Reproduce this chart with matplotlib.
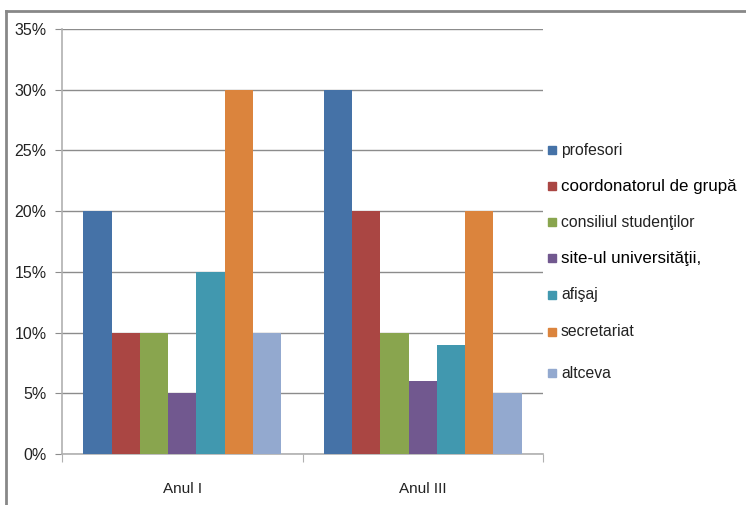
import numpy as np
import matplotlib
matplotlib.use("Agg")
import matplotlib.pyplot as plt
from matplotlib.lines import Line2D

# survey data: share of answers per source, by study year
groups = ["Anul I", "Anul III"]
series = ["profesori", "coordonatorul de grupă", "consiliul studenţilor",
          "site-ul universităţii,", "afişaj", "secretariat", "altceva"]
anul_1 = [20, 10, 10, 5, 15, 30, 10]
anul_3 = [30, 20, 10, 6, 9, 20, 5]
colors = ["#4572a7", "#aa4643", "#89a54e", "#71588f",
          "#4198af", "#db843d", "#93a9cf"]
yticks = [0, 5, 10, 15, 20, 25, 30, 35]

plt.rcParams['font.family'] = ['Liberation Sans', 'DejaVu Sans']

fig = plt.figure(figsize=(7.46, 5.05), dpi=100)
W, H = 746, 505
ax = fig.add_axes([62 / W, 1 - 454 / H, (543 - 62) / W, (454 - 29) / H])

values = np.array([anul_1, anul_3])
n = len(series)
bw = 1.0 / (n + 1.5)
x = np.arange(len(groups))
for i in range(n):
    ax.bar(x - 0.5 + 0.75 * bw + i * bw, values[:, i], bw, align='edge',
           color=colors[i], zorder=3, label=series[i])

ax.set_xlim(-0.5, 1.5)
ax.set_ylim(0, 35)
ax.set_yticks(yticks)
ax.set_yticklabels(['{}%'.format(v) for v in yticks], fontsize=11.5, color='#222222')
ax.yaxis.grid(True, color='#8c8c8c', lw=1.0, zorder=1)
ax.tick_params(axis='y', length=5, color='#8c8c8c', pad=6)

ax.set_xticks([-0.5, 0.5, 1.5])
ax.set_xticklabels([])
ax.set_xticks(x, minor=True)
ax.set_xticklabels(groups, minor=True, fontsize=11, color='#222222')
ax.tick_params(axis='x', which='major', length=6, color='#b0b0b0')
ax.tick_params(axis='x', which='minor', length=0, pad=20)

for s in ['top', 'right']:
    ax.spines[s].set_visible(False)
ax.spines['left'].set_color('#b0b0b0')
ax.spines['bottom'].set_color('#b0b0b0')
ax.spines['left'].set_linewidth(1.2)
ax.spines['bottom'].set_linewidth(1.2)

# legend drawn by hand so each entry can keep its own font
legend_y = [150, 186, 222, 258, 295, 332, 373]
heavy = {1, 3}
for i, name in enumerate(series):
    yy = 1 - legend_y[i] / H
    fig.patches.append(plt.Rectangle((548 / W, yy - 4 / H), 8 / W, 8 / H,
                                     transform=fig.transFigure, color=colors[i]))
    if i in heavy:
        fig.text(561 / W, yy, name, fontsize=12.2, va='center', color='black')
    else:
        fig.text(561 / W, yy, name, fontsize=11.3, va='center', color='#222222')

# outer frame (open at right and bottom)
fig.add_artist(Line2D([6 / W, 1], [1 - 11 / H, 1 - 11 / H], color='#888888', lw=2.0))
fig.add_artist(Line2D([6 / W, 6 / W], [0, 1 - 11 / H], color='#888888', lw=2.0))

fig.savefig("out.png", dpi=100, facecolor='white')
